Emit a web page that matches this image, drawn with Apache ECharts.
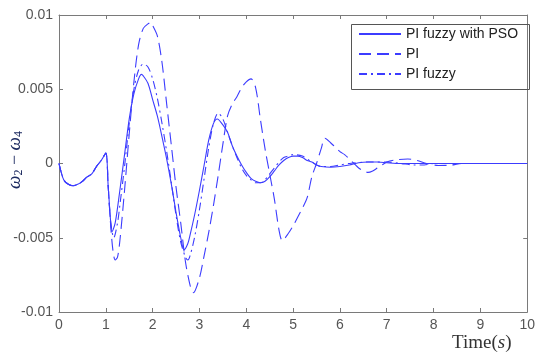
<!DOCTYPE html>
<html><head><meta charset="utf-8">
<script src="https://cdn.jsdelivr.net/npm/echarts@6/dist/echarts.min.js"></script>
<style>html,body{margin:0;padding:0;background:#fff}#c{width:538px;height:356px}</style>
</head><body><div id="c"></div>
<script>
const seriesNames = ['PI fuzzy with PSO', 'PI', 'PI fuzzy'];
const xTicks = [0,1,2,3,4,5,6,7,8,9,10];
const yTickLabels = ['-0.01','-0.005','0','0.005','0.01'];

const psoData = [[0,0],[0.1,-0.0011],[0.2,-0.0014],[0.3,-0.0015],[0.4,-0.0014],[0.5,-0.0012],[0.6,-0.0009],[0.7,-0.0007],[0.8,-0.0002],[0.9,0.0002],[1.0,0.0007],
[1.05,-0.0015],[1.1,-0.0038],[1.13,-0.0046],[1.2,-0.0040],[1.3,-0.0018],[1.4,0.0006],[1.5,0.0030],[1.6,0.0047],[1.7,0.0057],[1.76,0.0060],[1.8,0.0059],[1.9,0.0054],
[2.0,0.0043],[2.1,0.0032],[2.2,0.0018],[2.3,0.0003],[2.4,-0.0014],[2.5,-0.0033],[2.6,-0.0050],[2.67,-0.0058],[2.75,-0.0054],[2.8,-0.0048],[2.9,-0.0034],
[3.0,-0.0018],[3.1,-0.0001],[3.2,0.0016],[3.3,0.0027],[3.38,0.0030],[3.5,0.0026],[3.6,0.0021],[3.7,0.0012],[3.8,0.0005],[3.9,-0.0001],
[4.0,-0.0006],[4.1,-0.0010],[4.2,-0.0012],[4.3,-0.0013],[4.4,-0.0012],[4.5,-0.0009],[4.6,-0.0005],[4.7,-0.0001],[4.8,0.0002],[4.9,0.0004],
[5.0,0.0005],[5.1,0.0005],[5.2,0.0004],[5.3,0.0002],[5.4,0.0001],[5.5,-0.0001],[5.6,-0.0002],[5.8,-0.00025],[6.0,-0.0002],[6.2,-0.0001],[6.4,0.00005],[6.6,0.0001],[6.8,0.0001],[7.0,0.00005],[7.2,0],[8,0],[9,0],[10,0]];

const piData = [[0,0],[0.1,-0.0011],[0.2,-0.0014],[0.3,-0.0015],[0.4,-0.0014],[0.5,-0.0012],[0.6,-0.0009],[0.7,-0.0007],[0.8,-0.0002],[0.9,0.0002],[1.0,0.0007],
[1.05,-0.0015],[1.1,-0.0040],[1.15,-0.0058],[1.2,-0.0065],[1.25,-0.0063],[1.3,-0.0052],[1.4,-0.0018],[1.5,0.0020],[1.6,0.0055],[1.7,0.0080],[1.8,0.0091],[1.9,0.0094],[1.96,0.0095],
[2.0,0.0093],[2.1,0.0086],[2.2,0.0068],[2.3,0.0040],[2.4,0.0012],[2.5,-0.0016],[2.6,-0.0040],[2.7,-0.0066],[2.8,-0.0082],[2.87,-0.0087],
[3.0,-0.0077],[3.1,-0.0062],[3.2,-0.0046],[3.3,-0.0028],[3.4,-0.0008],[3.5,0.0013],[3.6,0.0032],[3.7,0.0040],[3.8,0.0045],[3.9,0.0051],[4.0,0.0055],[4.1,0.0057],
[4.2,0.0051],[4.3,0.0030],[4.4,0.0010],[4.5,-0.0007],[4.6,-0.0024],[4.7,-0.0045],[4.77,-0.0052],[4.9,-0.0047],[5.0,-0.0042],[5.1,-0.0036],[5.2,-0.0030],[5.3,-0.0023],[5.4,-0.0009],[5.5,0.0],[5.6,0.0010],[5.68,0.0017],
[5.8,0.0014],[5.9,0.0011],[6.0,0.0008],[6.1,0.0006],[6.2,0.0003],[6.3,0.0],[6.4,-0.0003],[6.5,-0.0005],[6.6,-0.0006],[6.7,-0.0005],[6.8,-0.0003],[6.9,-0.0001],
[7.0,0.0001],[7.2,0.00025],[7.45,0.0003],[7.65,0.0002],[7.85,0.0],[8.1,-0.00013],[8.35,-0.00012],[8.6,0.0],[9,0],[10,0]];

const fuzzyData = [[0,0],[0.1,-0.0011],[0.2,-0.0014],[0.3,-0.0015],[0.4,-0.0014],[0.5,-0.0012],[0.6,-0.0009],[0.7,-0.0007],[0.8,-0.0002],[0.9,0.0002],[1.0,0.0007],
[1.05,-0.0015],[1.1,-0.0038],[1.17,-0.0050],[1.25,-0.0040],[1.3,-0.0028],[1.4,-0.0002],[1.5,0.0027],[1.6,0.0050],[1.7,0.0063],[1.8,0.0067],[1.9,0.0065],
[2.0,0.0057],[2.1,0.0044],[2.2,0.0027],[2.3,0.0008],[2.4,-0.0013],[2.5,-0.0035],[2.6,-0.0053],[2.7,-0.0063],[2.75,-0.0065],[2.8,-0.0062],[2.9,-0.0049],
[3.0,-0.0031],[3.1,-0.0010],[3.2,0.0011],[3.3,0.0027],[3.4,0.0034],[3.5,0.0030],[3.6,0.0021],[3.7,0.0012],[3.8,0.0004],[3.9,-0.0003],
[4.0,-0.0008],[4.1,-0.0011],[4.2,-0.0013],[4.3,-0.0013],[4.4,-0.0011],[4.5,-0.0007],[4.6,-0.0003],[4.7,0.0001],[4.8,0.0004],[4.9,0.0005],
[5.0,0.0006],[5.2,0.0005],[5.4,0.0001],[5.6,-0.0002],[5.8,-0.0002],[6.0,-0.0001],[6.2,0.0],[6.6,0.0001],[7.0,0.0001],[7.3,0.0],[7.6,-0.0001],[7.8,-0.0001],[8.0,0.0],[9,0],[10,0]];

const lineColor = '#3c3cff';
const axisColor = '#7a7a7a';
const labelColor = '#555555';

const chart = echarts.init(document.getElementById('c'), null, {renderer: 'canvas'});
const gridBox = {left: 59, right: 5, top: 15, bottom: 44};
const xBase = {type: 'value', min: xTicks[0], max: xTicks[xTicks.length-1], interval: 1,
  axisLine: {show: true, onZero: false, lineStyle: {color: axisColor, width: 1}},
  axisTick: {show: true, inside: true, length: 4, lineStyle: {color: axisColor}},
  splitLine: {show: false}};
const yBase = {type: 'value', min: -0.01, max: 0.01, interval: 0.005,
  axisLine: {show: true, onZero: false, lineStyle: {color: axisColor, width: 1}},
  axisTick: {show: true, inside: true, length: 4, lineStyle: {color: axisColor}},
  splitLine: {show: false}};

function fmtY(v) {
  const idx = Math.round((v + 0.01) / 0.005);
  return yTickLabels[idx] !== undefined ? yTickLabels[idx] : '';
}

const dashTypes = ['solid', [12, 6], [8, 4, 2, 4]];
const datas = [psoData, piData, fuzzyData];

chart.setOption({
  animation: false,
  backgroundColor: '#ffffff',
  grid: gridBox,
  xAxis: [
    Object.assign({}, xBase, {position: 'bottom',
      axisLabel: {show: true, color: labelColor, fontSize: 14, fontFamily: 'Liberation Sans, Arial', margin: 6}}),
    Object.assign({}, xBase, {position: 'top', axisLabel: {show: false}})
  ],
  yAxis: [
    Object.assign({}, yBase, {position: 'left',
      axisLabel: {show: true, color: labelColor, fontSize: 14, fontFamily: 'Liberation Sans, Arial', margin: 6, formatter: fmtY}}),
    Object.assign({}, yBase, {position: 'right', axisLabel: {show: false}})
  ],
  legend: {
    show: true,
    orient: 'vertical',
    left: 358, top: 27,
    padding: 0,
    itemWidth: 42, itemHeight: 14, itemGap: 6,
    itemStyle: {opacity: 0},
    textStyle: {color: '#222', fontSize: 14, fontFamily: 'Liberation Sans, Arial'},
    data: seriesNames
  },
  graphic: [
    {type: 'rect', left: 349, top: 22, shape: {width: 178, height: 65},
     style: {fill: 'none', stroke: '#555', lineWidth: 1}, z: 1},
    {type: 'text', x: 15, y: 160, rotation: Math.PI / 2,
     style: {text: '{w|ω}{s|2}{m| − }{w|ω}{s|4}', align: 'center', verticalAlign: 'middle',
       rich: {w: {fontSize: 19, fontFamily: 'Liberation Serif', fontStyle: 'italic', fill: '#1c2a60'},
              m: {fontSize: 18, fontFamily: 'Liberation Serif', fill: '#1c2a60'},
              s: {fontSize: 12, fontFamily: 'Liberation Serif', fill: '#1c2a60', padding: [7, 0, 0, 0]}}}},
    {type: 'text', x: 452, y: 343,
     style: {text: '{a|Time(}{b|s}{a|)}', verticalAlign: 'middle', align: 'left',
       rich: {a: {fontSize: 19, fontFamily: 'Liberation Serif', fill: '#333'},
              b: {fontSize: 19, fontFamily: 'Liberation Serif', fontStyle: 'italic', fill: '#333'}}}}
  ],
  series: seriesNames.map((name, i) => ({
    name: name, type: 'line', xAxisIndex: 0, yAxisIndex: 0,
    data: datas[i], showSymbol: false, symbol: 'none', smooth: 0.3,
    lineStyle: {color: lineColor, width: 1.1, type: dashTypes[i]},
    itemStyle: {color: lineColor},
    z: 3 - i
  }))
});
</script></body></html>
